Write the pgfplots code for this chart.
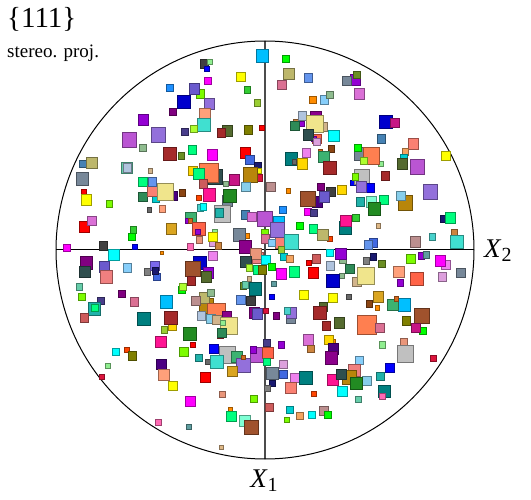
\documentclass[border=0pt]{standalone}
\usepackage[svgnames]{xcolor}
\usepackage{fontspec}
\setmainfont{Liberation Serif}
\usepackage{pgfplots}
\pgfplotsset{compat=1.18}
\definecolor{Dk}{HTML}{404040}
\newcommand\sq[4]{\addplot[only marks,mark=square*,mark size={(#3-0.9)*0.5},mark options={solid,fill=#4,draw=#4!62!black,line width=0.9pt}] coordinates {(#1,#2)};}
\begin{document}
\begin{tikzpicture}
\path[use as bounding box] (0,0) rectangle (531pt,500pt);
\begin{axis}[scale only axis,width=531pt,height=500pt,xmin=0,xmax=531,ymin=0,ymax=500,y dir=reverse,hide axis,clip=false,at={(0,0)},anchor=south west]
\addplot[black,line width=1pt] coordinates {(56,250) (474,250)};
\addplot[black!70,line width=1.4pt] coordinates {(265,41) (265,459)};
\draw[black,line width=1pt] (axis cs:265,250) circle [radius=209pt];
% upper left
\sq{143}{120}{11}{DarkViolet}\sq{129}{140}{15}{MediumOrchid}\sq{158}{135}{15}{MediumPurple}\sq{143}{148}{8}{DarkSeaGreen}
\sq{262}{56}{13}{DeepSkyBlue}\sq{204}{64}{9}{Dk}\sq{210}{62}{6}{LightGreen}\sq{207}{69}{6}{Blue}\sq{241}{77}{10}{Yellow}\sq{208}{81}{8}{Magenta}\sq{247}{90}{7}{LimeGreen}\sq{170}{88}{8}{DodgerBlue}\sq{200}{94}{9}{LawnGreen}\sq{194}{89}{11}{SlateBlue}\sq{184}{102}{14}{MediumBlue}\sq{257}{103}{7}{YellowGreen}\sq{209}{104}{11}{MediumPurple}\sq{173}{112}{8}{Purple}\sq{205}{114}{12}{LightSalmon}\sq{204}{125}{14}{Turquoise}\sq{185}{132}{8}{DarkSlateBlue}\sq{194}{129}{8}{GreenYellow}\sq{227}{131}{11}{DarkOliveGreen}\sq{221}{133}{9}{Brown}\sq{248}{130}{9}{Olive}\sq{262}{128}{6}{Red}
% upper right
\sq{286}{59}{8}{Lime}\sq{289}{74}{12}{DarkKhaki}\sq{282}{85}{10}{PaleVioletRed}\sq{308}{78}{9}{CornflowerBlue}\sq{355}{80}{11}{DarkViolet}\sq{347}{81}{10}{LightSlateGray}\sq{357}{75}{8}{OliveDrab}\sq{359}{94}{11}{Orchid}\sq{313}{100}{8}{DarkOrange}\sq{324}{100}{9}{LightSkyBlue}\sq{330}{95}{8}{DarkSeaGreen}
\sq{316}{117}{12}{DarkMagenta}\sq{296}{122}{6}{Peru}\sq{302}{116}{9}{LightSteelBlue}\sq{302}{124}{6}{DarkViolet}\sq{295}{126}{10}{SeaGreen}\sq{323}{127}{9}{Tan}\sq{315}{124}{18}{Khaki}\sq{317}{139}{10}{Tomato}\sq{314}{139}{6}{DarkViolet}\sq{308}{135}{11}{DarkSlateGray}\sq{317}{142}{8}{Plum}\sq{334}{136}{12}{Cyan}\sq{306}{153}{9}{Violet}\sq{331}{149}{7}{SaddleBrown}
\sq{386}{122}{14}{MediumBlue}\sq{395}{123}{10}{MediumVioletRed}\sq{381}{139}{9}{SteelBlue}\sq{413}{144}{11}{Salmon}\sq{405}{152}{7}{SandyBrown}\sq{404}{158}{8}{DarkTurquoise}\sq{446}{156}{10}{Yellow}\sq{402}{164}{11}{DarkOliveGreen}\sq{417}{167}{15}{MediumOrchid}\sq{381}{164}{6}{LightGreen}\sq{385}{176}{9}{Brown}
\sq{360}{154}{13}{LightSlateGray}\sq{358}{148}{8}{Lime}\sq{371}{156}{17}{Coral}\sq{364}{161}{8}{GreenYellow}\sq{353}{183}{6}{Blue}\sq{362}{177}{16}{Silver}\sq{355}{177}{7}{LawnGreen}\sq{370}{188}{9}{Blue}\sq{361}{187}{11}{MediumPurple}
\sq{405}{203}{15}{DarkGoldenrod}\sq{401}{196}{10}{SkyBlue}\sq{430}{192}{15}{MediumPurple}\sq{444}{219}{8}{MidnightBlue}\sq{450}{218}{11}{SpringGreen}\sq{384}{200}{10}{SpringGreen}\sq{371}{202}{11}{Aquamarine}\sq{374}{209}{13}{ForestGreen}\sq{378}{226}{5}{BurlyWood}\sq{415}{242}{11}{RosyBrown}\sq{432}{237}{7}{MediumTurquoise}\sq{454}{233}{7}{Peru}\sq{457}{242}{14}{Turquoise}\sq{373}{243}{9}{RoyalBlue}\sq{368}{245}{9}{CornflowerBlue}
% left
\sq{83}{164}{8}{SteelBlue}\sq{92}{163}{12}{DarkKhaki}\sq{127}{168}{12}{MediumAquamarine}\sq{127}{168}{9}{LightSteelBlue}\sq{82}{179}{13}{LightSlateGray}\sq{150}{171}{5}{Tan}\sq{143}{197}{10}{SeaGreen}\sq{156}{199}{8}{DarkTurquoise}\sq{143}{182}{10}{SpringGreen}\sq{152}{191}{11}{Salmon}\sq{152}{182}{9}{CornflowerBlue}\sq{173}{196}{10}{Indigo}\sq{165}{192}{17}{Khaki}\sq{182}{193}{7}{SaddleBrown}\sq{84}{192}{6}{Red}\sq{86}{200}{11}{Yellow}\sq{109}{204}{7}{LawnGreen}\sq{149}{210}{5}{DimGray}\sq{162}{209}{7}{LightSalmon}\sq{84}{227}{11}{Red}\sq{92}{221}{10}{Orchid}\sq{133}{230}{7}{LimeGreen}\sq{132}{237}{8}{Lime}\sq{67}{248}{8}{Magenta}\sq{103}{246}{9}{Dk}\sq{135}{247}{6}{Blue}\sq{114}{255}{12}{Cyan}
% centre top
\sq{170}{154}{14}{Brown}\sq{181}{156}{7}{OliveDrab}\sq{192}{150}{9}{SpringGreen}\sq{212}{155}{11}{Magenta}\sq{245}{153}{11}{Red}\sq{250}{160}{10}{RoyalBlue}\sq{258}{166}{8}{MidnightBlue}\sq{259}{171}{6}{Yellow}\sq{259}{178}{7}{Crimson}\sq{250}{175}{15}{DarkGoldenrod}\sq{202}{168}{7}{LightSlateGray}\sq{193}{171}{10}{Gold}\sq{215}{177}{15}{DarkSlateGray}\sq{209}{173}{20}{Coral}\sq{199}{174}{12}{SpringGreen}\sq{203}{184}{9}{IndianRed}\sq{226}{184}{6}{DarkSeaGreen}\sq{234}{180}{11}{MediumVioletRed}\sq{246}{187}{10}{SkyBlue}\sq{199}{198}{6}{OrangeRed}\sq{209}{195}{13}{DeepPink}\sq{227}{201}{11}{LightSlateGray}\sq{230}{196}{14}{ForestGreen}\sq{222}{214}{17}{Silver}\sq{219}{213}{9}{LightSeaGreen}\sq{200}{208}{7}{MediumTurquoise}\sq{203}{207}{7}{Cyan}
\sq{191}{218}{12}{MediumSeaGreen}\sq{188}{221}{6}{DarkViolet}\sq{190}{221}{5}{Chocolate}\sq{199}{229}{14}{Tomato}\sq{198}{232}{6}{DarkViolet}\sq{171}{229}{11}{Goldenrod}\sq{199}{240}{7}{DarkSalmon}\sq{190}{247}{7}{HotPink}
\sq{245}{215}{9}{SteelBlue}\sq{252}{217}{10}{Orchid}\sq{215}{232}{6}{LightGreen}\sq{213}{242}{9}{Plum}\sq{213}{237}{10}{Yellow}\sq{218}{246}{7}{Peru}\sq{247}{236}{6}{DarkOrange}\sq{239}{235}{13}{LightSlateGray}\sq{265}{219}{16}{MediumOrchid}\sq{265}{233}{8}{LawnGreen}\sq{265}{239}{9}{PaleVioletRed}\sq{245}{247}{13}{DarkMagenta}\sq{213}{256}{10}{Violet}\sq{162}{253}{4}{DarkOrange}
% centre right
\sq{291}{159}{13}{Teal}\sq{294}{162}{5}{DimGray}\sq{302}{164}{11}{Gold}\sq{320}{152}{5}{Chocolate}\sq{324}{157}{12}{MediumSeaGreen}\sq{330}{168}{14}{Brown}\sq{271}{187}{10}{RosyBrown}\sq{331}{192}{10}{Dk}\sq{321}{187}{8}{Purple}\sq{342}{190}{10}{Gold}\sq{288}{191}{5}{DarkOrange}\sq{317}{202}{11}{Indigo}\sq{308}{199}{16}{Sienna}\sq{324}{197}{11}{SlateBlue}\sq{308}{212}{8}{Magenta}\sq{314}{213}{8}{DarkSlateBlue}\sq{360}{202}{9}{LightSeaGreen}\sq{283}{210}{8}{DodgerBlue}\sq{279}{222}{12}{DeepSkyBlue}\sq{282}{242}{14}{Salmon}\sq{277}{230}{15}{MediumPurple}\sq{356}{218}{8}{LimeGreen}\sq{345}{228}{13}{Teal}\sq{346}{221}{12}{DeepPink}\sq{300}{226}{8}{Lime}\sq{313}{229}{9}{SpringGreen}\sq{330}{239}{6}{OrangeRed}\sq{323}{235}{12}{DarkKhaki}\sq{291}{242}{15}{Turquoise}\sq{272}{243}{8}{LightSkyBlue}\sq{281}{250}{7}{YellowGreen}\sq{330}{253}{8}{Cyan}\sq{343}{260}{8}{DarkSeaGreen}\sq{341}{254}{12}{DarkViolet}
% lower left
\sq{86}{263}{13}{Purple}\sq{85}{272}{12}{DarkSlateGray}\sq{104}{267}{11}{SlateBlue}\sq{106}{277}{13}{LightCoral}\sq{127}{268}{9}{LightSkyBlue}\sq{79}{287}{7}{MediumAquamarine}\sq{147}{272}{7}{Gray}\sq{157}{277}{8}{RoyalBlue}\sq{155}{266}{10}{MediumSlateBlue}\sq{155}{271}{7}{MidnightBlue}\sq{82}{297}{8}{LawnGreen}\sq{101}{301}{8}{DarkSlateBlue}\sq{122}{294}{8}{Purple}\sq{134}{302}{9}{PaleVioletRed}\sq{94}{309}{13}{LightSeaGreen}\sq{95}{308}{8}{SpringGreen}\sq{84}{318}{9}{IndianRed}\sq{144}{319}{14}{Teal}\sq{161}{342}{12}{DeepPink}\sq{116}{352}{8}{Cyan}\sq{127}{350}{6}{OrangeRed}\sq{132}{356}{9}{Olive}\sq{108}{366}{6}{LightGreen}\sq{102}{377}{6}{Crimson}
% centre lower
\sq{200}{263}{14}{MediumBlue}\sq{208}{273}{11}{DarkViolet}\sq{193}{269}{16}{Sienna}\sq{206}{277}{11}{DarkOliveGreen}\sq{191}{281}{9}{Brown}\sq{182}{290}{8}{Lime}\sq{183}{287}{8}{GreenYellow}\sq{166}{302}{13}{DeepSkyBlue}\sq{206}{306}{15}{DarkGoldenrod}\sq{204}{298}{11}{DarkKhaki}\sq{211}{293}{8}{DarkSeaGreen}\sq{196}{301}{10}{RosyBrown}\sq{216}{313}{19}{Coral}\sq{201}{316}{9}{LightSteelBlue}\sq{227}{316}{10}{DarkMagenta}\sq{211}{319}{10}{SkyBlue}\sq{217}{320}{10}{Tan}\sq{229}{326}{18}{Khaki}\sq{223}{323}{6}{LightGreen}\sq{220}{335}{7}{Brown}\sq{222}{333}{10}{SeaGreen}\sq{172}{326}{9}{Gold}\sq{171}{318}{14}{Brown}\sq{164}{330}{7}{YellowGreen}\sq{190}{334}{14}{ForestGreen}\sq{193}{345}{6}{Red}\sq{184}{352}{10}{LawnGreen}\sq{214}{349}{10}{Blue}
\sq{254}{313}{11}{DarkMagenta}\sq{257}{314}{11}{SlateBlue}\sq{266}{311}{6}{Crimson}\sq{241}{300}{10}{CornflowerBlue}\sq{251}{301}{10}{Dk}\sq{243}{286}{7}{OliveDrab}\sq{245}{285}{7}{MediumAquamarine}\sq{255}{289}{13}{Teal}\sq{249}{279}{5}{Tan}\sq{258}{258}{12}{LightCoral}\sq{256}{254}{12}{DarkSalmon}\sq{246}{262}{12}{DarkSlateGray}\sq{266}{260}{10}{Cyan}\sq{249}{268}{7}{GreenYellow}\sq{257}{270}{9}{SpringGreen}\sq{262}{270}{9}{Olive}\sq{267}{343}{8}{DarkSlateBlue}
% right lower
\sq{284}{257}{8}{DarkTurquoise}\sq{290}{259}{8}{SandyBrown}\sq{316}{259}{9}{IndianRed}\sq{309}{263}{6}{Red}\sq{330}{266}{9}{LightSteelBlue}\sq{350}{269}{10}{SeaGreen}\sq{272}{267}{8}{Lime}\sq{281}{274}{11}{Magenta}\sq{294}{272}{11}{SpringGreen}\sq{313}{273}{11}{Red}\sq{366}{261}{7}{Gray}\sq{373}{257}{7}{MidnightBlue}\sq{342}{276}{6}{DarkSeaGreen}\sq{333}{281}{14}{MediumBlue}\sq{357}{282}{10}{Tan}\sq{366}{276}{18}{Khaki}\sq{274}{284}{6}{CadetBlue}\sq{272}{297}{6}{Blue}\sq{304}{295}{10}{Yellow}\sq{333}{298}{10}{Yellow}\sq{349}{297}{6}{DimGray}\sq{378}{297}{11}{Goldenrod}\sq{369}{304}{7}{SaddleBrown}\sq{377}{308}{5}{DarkOrange}\sq{276}{316}{7}{Purple}\sq{291}{319}{10}{LightSlateGray}\sq{291}{313}{11}{MediumPurple}\sq{287}{311}{7}{MediumTurquoise}\sq{323}{307}{9}{DarkOliveGreen}\sq{320}{313}{14}{Brown}\sq{326}{326}{9}{Brown}\sq{339}{323}{11}{DarkOliveGreen}\sq{367}{325}{20}{Coral}\sq{380}{328}{10}{PaleVioletRed}\sq{308}{340}{11}{Orchid}\sq{333}{342}{6}{DarkOrange}\sq{329}{340}{10}{Gold}\sq{311}{349}{8}{Peru}\sq{281}{345}{7}{DarkViolet}\sq{333}{349}{11}{Indigo}\sq{331}{358}{13}{DarkMagenta}\sq{359}{360}{9}{LightSkyBlue}
\sq{411}{259}{10}{LawnGreen}\sq{421}{256}{7}{DarkViolet}\sq{426}{255}{7}{CadetBlue}\sq{446}{265}{10}{Violet}\sq{440}{261}{11}{Magenta}\sq{461}{273}{10}{LightSlateGray}\sq{399}{272}{12}{LightSalmon}\sq{417}{279}{14}{Tomato}\sq{400}{283}{7}{DarkViolet}\sq{442}{277}{9}{Plum}\sq{382}{264}{8}{OliveDrab}\sq{404}{305}{13}{DeepSkyBlue}\sq{393}{305}{12}{MediumSeaGreen}\sq{396}{299}{5}{Chocolate}\sq{422}{316}{16}{Sienna}\sq{406}{321}{9}{Olive}\sq{423}{331}{8}{Lime}\sq{416}{328}{10}{MediumVioletRed}\sq{382}{345}{7}{LightGreen}\sq{404}{342}{8}{DarkSalmon}\sq{405}{354}{17}{Silver}\sq{433}{358}{7}{Crimson}\sq{390}{368}{10}{Blue}\sq{380}{376}{9}{LightSeaGreen}\sq{384}{391}{13}{Teal}\sq{382}{396}{7}{HotPink}
% bottom
\sq{199}{358}{8}{LightSeaGreen}\sq{161}{364}{11}{Indigo}\sq{164}{375}{12}{LightSalmon}\sq{173}{386}{10}{Yellow}\sq{205}{377}{11}{Red}\sq{208}{362}{6}{DimGray}\sq{227}{355}{17}{Silver}\sq{237}{357}{12}{MediumSeaGreen}\sq{217}{362}{14}{Turquoise}\sq{257}{355}{15}{MediumOrchid}\sq{243}{365}{15}{MediumPurple}\sq{243}{357}{5}{Chocolate}\sq{253}{350}{7}{DarkViolet}\sq{232}{371}{11}{Goldenrod}\sq{268}{353}{12}{Tomato}\sq{267}{362}{8}{SpringGreen}\sq{283}{364}{9}{Plum}\sq{283}{374}{9}{RoyalBlue}\sq{272}{373}{13}{LightSlateGray}\sq{272}{383}{7}{MidnightBlue}\sq{267}{388}{7}{Gray}\sq{295}{378}{10}{Violet}\sq{291}{388}{12}{Salmon}\sq{306}{378}{14}{Teal}\sq{314}{394}{6}{OrangeRed}\sq{222}{394}{7}{DarkSalmon}\sq{190}{401}{11}{Magenta}\sq{254}{399}{8}{LawnGreen}\sq{269}{407}{9}{IndianRed}\sq{290}{410}{8}{DarkTurquoise}\sq{300}{416}{8}{SandyBrown}\sq{312}{415}{8}{Cyan}\sq{324}{411}{10}{RosyBrown}\sq{328}{415}{8}{Lime}\sq{287}{420}{6}{LawnGreen}\sq{230}{409}{5}{DarkOrange}\sq{231}{416}{11}{SpringGreen}\sq{245}{421}{12}{Aquamarine}\sq{251}{427}{15}{Sienna}\sq{158}{422}{7}{HotPink}\sq{189}{427}{6}{CadetBlue}\sq{221}{447}{5}{BurlyWood}
\sq{354}{370}{13}{LightCoral}\sq{333}{380}{12}{DeepPink}\sq{342}{391}{11}{Cyan}\sq{349}{377}{15}{DarkGoldenrod}\sq{341}{374}{11}{DarkSlateGray}\sq{367}{381}{10}{SkyBlue}\sq{356}{383}{13}{ForestGreen}\sq{358}{399}{7}{MediumAquamarine}
\node[anchor=base west,inner sep=0pt,font=\fontsize{29}{29}\selectfont] at (axis cs:7,28) {\{111\}};
\node[anchor=base west,inner sep=0pt,font=\fontsize{19}{19}\selectfont] at (axis cs:7,58) {stereo. proj.};
\node[anchor=base west,inner sep=0pt,font=\fontsize{27}{27}\selectfont] at (axis cs:484,258) {\textit{X}\raisebox{-4pt}{\fontsize{20}{20}\selectfont 2}};
\node[anchor=base,inner sep=0pt,font=\fontsize{27}{27}\selectfont] at (axis cs:264,487) {\textit{X}\raisebox{-4pt}{\fontsize{20}{20}\selectfont 1}};
\end{axis}
\end{tikzpicture}
\end{document}
